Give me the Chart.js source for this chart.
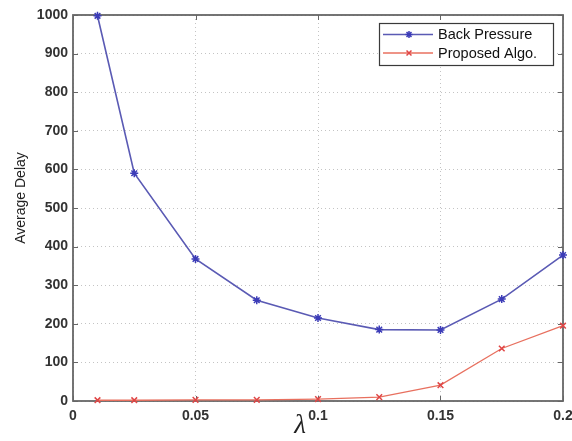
<!DOCTYPE html>
<html>
<head>
<meta charset="utf-8">
<script src="https://cdn.jsdelivr.net/npm/chart.js@4"></script>
<style>
  html, body { margin: 0; padding: 0; background: #ffffff; }
  canvas { display: block; }
</style>
</head>
<body>
<canvas id="delayChart" width="572" height="441"></canvas>
<script>
// Arrival rate (lambda) samples
const lambdaValues = [0.01, 0.025, 0.05, 0.075, 0.1, 0.125, 0.15, 0.175, 0.2];
// Average delay per scheme
const backPressure = [998, 590, 368, 261, 215, 185, 184, 264, 378];
const proposedAlgo = [2, 2, 3, 3, 5, 10, 41, 136, 195];
const seriesNames = ['Back Pressure', 'Proposed Algo.'];
// Axis ticks
const xTicks = [0, 0.05, 0.1, 0.15, 0.2];
const xTickLabels = ['0', '0.05', '0.1', '0.15', '0.2'];
const yTicks = [0, 100, 200, 300, 400, 500, 600, 700, 800, 900, 1000];
const yTickLabels = ['0', '100', '200', '300', '400', '500', '600', '700', '800', '900', '1000'];
const xTitle = 'λ';
const yTitle = 'Average Delay';

const FONT = '"Liberation Sans", Arial, sans-serif';
const TEXT_COLOR = '#333333';
const FRAME_COLOR = '#666666';
const BLUE_LINE = '#5a5ab4';
const BLUE_MARK = '#3c3cb8';
const RED_LINE = '#e8705f';
const RED_MARK = '#e04545';

const toPoints = (xs, ys) => xs.map((x, i) => ({ x: x, y: ys[i] }));

// Asterisk / x markers used in the legend samples
function drawMarker(ctx, style, x, y, r, color) {
  ctx.save();
  ctx.strokeStyle = color;
  ctx.lineWidth = 1.5;
  ctx.beginPath();
  const d = r * Math.SQRT1_2;
  if (style === 'star') {
    ctx.moveTo(x, y - r); ctx.lineTo(x, y + r);
    ctx.moveTo(x - r, y); ctx.lineTo(x + r, y);
  }
  ctx.moveTo(x - d, y - d); ctx.lineTo(x + d, y + d);
  ctx.moveTo(x - d, y + d); ctx.lineTo(x + d, y - d);
  ctx.stroke();
  ctx.restore();
}

// Box around the plot plus inward tick marks on all four sides
const framePlugin = {
  id: 'frame',
  beforeDatasetsDraw(chart) {
    const { ctx, chartArea: a, scales } = chart;
    ctx.save();
    ctx.strokeStyle = FRAME_COLOR;
    ctx.lineWidth = 1.8;
    ctx.strokeRect(a.left, a.top, a.right - a.left, a.bottom - a.top);
    ctx.lineWidth = 1;
    ctx.beginPath();
    const tl = 5;
    scales.x.ticks.forEach((t, i) => {
      const px = Math.round(scales.x.getPixelForTick(i)) + 0.5;
      ctx.moveTo(px, a.bottom); ctx.lineTo(px, a.bottom - tl);
      ctx.moveTo(px, a.top); ctx.lineTo(px, a.top + tl);
    });
    scales.y.ticks.forEach((t, i) => {
      const py = Math.round(scales.y.getPixelForTick(i)) + 0.5;
      ctx.moveTo(a.left, py); ctx.lineTo(a.left + tl, py);
      ctx.moveTo(a.right, py); ctx.lineTo(a.right - tl, py);
    });
    ctx.stroke();
    ctx.restore();
  }
};

// Boxed legend in the top-right corner and the axis titles
const annotatePlugin = {
  id: 'annotate',
  afterDraw(chart) {
    const { ctx } = chart;
    ctx.save();

    // legend box
    const bx = 379.5, by = 23.5, bw = 174, bh = 42;
    ctx.fillStyle = '#ffffff';
    ctx.fillRect(bx, by, bw, bh);
    ctx.strokeStyle = '#3a3a3a';
    ctx.lineWidth = 1.2;
    ctx.strokeRect(bx, by, bw, bh);

    const rows = [34.5, 53];
    chart.data.datasets.forEach((ds, i) => {
      const y = rows[i];
      ctx.strokeStyle = ds.borderColor;
      ctx.lineWidth = ds.borderWidth;
      ctx.beginPath();
      ctx.moveTo(383, y); ctx.lineTo(433, y);
      ctx.stroke();
      drawMarker(ctx, ds.pointStyle, 409, y, 3.5, ds.pointBorderColor);
      ctx.fillStyle = '#111111';
      ctx.font = '14.5px ' + FONT;
      ctx.textAlign = 'left';
      ctx.textBaseline = 'middle';
      ctx.fillText(ds.label, 438, y + 0.5);
    });

    // y-axis title
    ctx.save();
    ctx.translate(21, 198);
    ctx.rotate(-Math.PI / 2);
    ctx.fillStyle = '#222222';
    ctx.font = '14px ' + FONT;
    ctx.textAlign = 'center';
    ctx.textBaseline = 'middle';
    ctx.fillText(yTitle, 0, 0);
    ctx.restore();

    // x-axis title
    ctx.fillStyle = '#222222';
    ctx.font = 'italic 27px "Liberation Serif", "DejaVu Serif", serif';
    ctx.textAlign = 'center';
    ctx.textBaseline = 'middle';
    ctx.fillText(xTitle, 300, 426);

    ctx.restore();
  }
};

const gridStyle = {
  color: '#c4c4c4',
  lineWidth: 1,
  drawTicks: false
};

new Chart(document.getElementById('delayChart'), {
  type: 'line',
  data: {
    datasets: [
      {
        label: seriesNames[0],
        data: toPoints(lambdaValues, backPressure),
        borderColor: BLUE_LINE,
        borderWidth: 1.6,
        pointStyle: 'star',
        pointRadius: 4,
        pointBorderColor: BLUE_MARK,
        pointBackgroundColor: BLUE_MARK,
        pointBorderWidth: 1.5,
        tension: 0,
        fill: false,
        clip: false
      },
      {
        label: seriesNames[1],
        data: toPoints(lambdaValues, proposedAlgo),
        borderColor: RED_LINE,
        borderWidth: 1.3,
        pointStyle: 'crossRot',
        pointRadius: 4,
        pointBorderColor: RED_MARK,
        pointBackgroundColor: RED_MARK,
        pointBorderWidth: 1.5,
        tension: 0,
        fill: false,
        clip: false
      }
    ]
  },
  options: {
    responsive: false,
    animation: false,
    devicePixelRatio: 1,
    layout: { padding: { top: 15, right: 9, bottom: 0, left: 0 } },
    plugins: {
      legend: { display: false },
      tooltip: { enabled: false }
    },
    scales: {
      x: {
        type: 'linear',
        min: 0,
        max: 0.2,
        afterBuildTicks(scale) { scale.ticks = xTicks.map(v => ({ value: v })); },
        afterFit(scale) {
          scale.height = 40;
          scale.paddingLeft = 0;
          scale.paddingRight = 0;
        },
        grid: gridStyle,
        border: { display: false, dash: [1, 3] },
        ticks: {
          padding: 7,
          maxRotation: 0,
          color: TEXT_COLOR,
          font: { family: FONT, size: 14, weight: 'bold' },
          callback: (v, i) => xTickLabels[i]
        }
      },
      y: {
        type: 'linear',
        min: 0,
        max: 1000,
        afterBuildTicks(scale) { scale.ticks = yTicks.map(v => ({ value: v })); },
        afterFit(scale) {
          scale.width = 73;
          scale.paddingTop = 0;
          scale.paddingBottom = 0;
        },
        grid: gridStyle,
        border: { display: false, dash: [1, 3] },
        ticks: {
          padding: 5,
          color: TEXT_COLOR,
          font: { family: FONT, size: 14, weight: 'bold' },
          callback: (v, i) => yTickLabels[i]
        }
      }
    }
  },
  plugins: [framePlugin, annotatePlugin]
});
</script>
</body>
</html>
